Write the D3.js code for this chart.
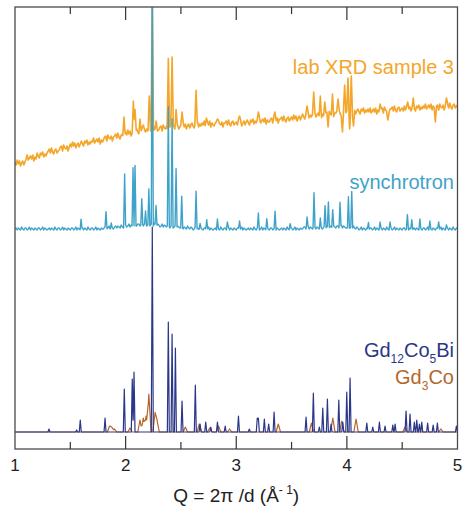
<!DOCTYPE html>
<html>
<head>
<meta charset="utf-8">
<script src="https://cdn.jsdelivr.net/npm/d3@7"></script>
<style>
  html, body { margin: 0; padding: 0; background: #fff; }
  svg { display: block; font-family: "Liberation Sans", Arial, Helvetica, sans-serif; }
</style>
</head>
<body>
<svg id="chart" width="463" height="512"></svg>
<script>
// Powder diffraction patterns versus momentum transfer Q (1/Å), stacked with offsets.

// Common Q grid for the measured backgrounds
const qStart = 1;
const qStep = 0.01;

// Lab XRD (sample 3): measured background on the Q grid, a.u. (one row per 0.1 in Q)
const labBackground = [
  270, 267, 272, 268, 271, 266, 269, 271, 267, 270,
  273, 277, 272, 274, 276, 273, 277, 271, 275, 273,
  279, 276, 274, 279, 277, 280, 275, 278, 276, 279,
  281, 283, 279, 284, 280, 278, 282, 283, 279, 281,
  282, 285, 286, 281, 287, 284, 283, 286, 281, 285,
  288, 285, 290, 286, 289, 284, 287, 289, 285, 288,
  291, 288, 286, 291, 289, 292, 287, 290, 288, 291,
  290, 294, 289, 291, 293, 290, 294, 288, 292, 290,
  292, 295, 296, 291, 297, 294, 293, 296, 291, 295,
  296, 298, 294, 299, 295, 293, 297, 298, 294, 296,
  300, 297, 302, 298, 301, 296, 299, 301, 297, 300,
  303, 300, 298, 303, 301, 304, 299, 302, 300, 303,
  301, 305, 300, 302, 304, 301, 305, 299, 303, 301,
  302, 305, 306, 301, 307, 304, 303, 306, 301, 305,
  305, 307, 303, 308, 304, 302, 306, 307, 303, 305,
  307, 304, 309, 305, 308, 303, 306, 308, 304, 307,
  309, 306, 304, 309, 307, 310, 305, 308, 306, 309,
  307, 311, 306, 308, 310, 307, 311, 305, 309, 307,
  306, 309, 310, 305, 311, 308, 307, 310, 305, 309,
  309, 311, 307, 312, 308, 306, 310, 311, 307, 309,
  310, 307, 312, 308, 311, 306, 309, 311, 307, 310,
  312, 309, 307, 312, 310, 313, 308, 311, 309, 312,
  310, 314, 309, 311, 313, 310, 314, 308, 312, 310,
  310, 313, 314, 309, 315, 312, 311, 314, 309, 313,
  313, 315, 311, 316, 312, 310, 314, 315, 311, 313,
  315, 312, 317, 313, 316, 311, 314, 316, 312, 315,
  318, 315, 313, 318, 316, 319, 314, 317, 315, 318,
  316, 320, 315, 317, 319, 316, 320, 314, 318, 316,
  316, 319, 320, 315, 321, 318, 317, 320, 315, 319,
  319, 321, 317, 322, 318, 316, 320, 321, 317, 319,
  321, 318, 323, 319, 322, 317, 320, 322, 318, 321,
  323, 320, 318, 323, 321, 324, 319, 322, 320, 323,
  320, 324, 319, 321, 323, 320, 324, 318, 322, 320,
  320, 323, 324, 319, 325, 322, 321, 324, 319, 323,
  323, 325, 321, 326, 322, 320, 324, 325, 321, 323,
  324, 321, 326, 322, 325, 320, 323, 325, 321, 324,
  326, 323, 321, 326, 324, 327, 322, 325, 323, 326,
  324, 328, 323, 325, 327, 324, 328, 322, 326, 324,
  323, 326, 327, 322, 328, 325, 324, 327, 322, 326,
  326, 328, 324, 329, 325, 323, 327, 328, 324, 326,
  327
];
// Lab XRD reflections: [Q, intensity above background]
const labPeaks = [
  [1.985, 20], [2.07, 30], [2.085, 24], [2.13, 10], [2.16, 8], [2.214, 33],
  [2.241, 140], [2.275, 10], [2.386, 70], [2.42, 72], [2.456, 18], [2.51, 16],
  [2.637, 34], [2.73, 6], [2.83, 8], [3.03, 8], [3.2, 10], [3.35, 8],
  [3.64, 10], [3.70, 24], [3.76, 16], [3.80, 14], [3.83, -10], [3.87, 18],
  [3.92, 16], [3.96, -20], [3.98, 30], [4.01, 36], [4.025, -18], [4.04, 34],
  [4.06, -14], [4.3, 8], [4.37, -12], [4.55, 10], [4.6, 8], [4.8, -13], [4.9, 8]
];

// Synchrotron pattern: background on the Q grid, a.u. (one row per 0.1 in Q)
const syncOffset = 203;
const syncBackground = [
  0, 1, -1, 1, 0, -1, 2, 0, -1, 1,
  1, -1, 0, 2, -1, 1, 0, -1, 1, 0,
  -1, 1, 1, -1, 0, 2, -1, 1, 0, -1,
  0, 1, -1, 1, 0, -1, 2, 0, -1, 1,
  1, -1, 0, 2, -1, 1, 0, -1, 1, 0,
  -1, 1, 1, -1, 0, 2, -1, 1, 0, -1,
  0, 1, -1, 1, 0, -1, 2, 0, -1, 1,
  1, -1, 0, 2, -1, 1, 0, -1, 1, 0,
  0, 2, 2, 0, 1, 3, 0, 2, 1, 0,
  2, 3, 1, 3, 2, 1, 4, 2, 1, 3,
  4, 2, 3, 5, 2, 4, 3, 2, 4, 3,
  3, 5, 5, 3, 4, 6, 3, 5, 4, 3,
  4, 5, 3, 5, 4, 3, 6, 4, 3, 5,
  4, 2, 3, 5, 2, 4, 3, 2, 4, 3,
  1, 3, 3, 1, 2, 4, 1, 3, 2, 1,
  1, 2, 0, 2, 1, 0, 3, 1, 0, 2,
  1, -1, 0, 2, -1, 1, 0, -1, 1, 0,
  -1, 1, 1, -1, 0, 2, -1, 1, 0, -1,
  0, 1, -1, 1, 0, -1, 2, 0, -1, 1,
  1, -1, 0, 2, -1, 1, 0, -1, 1, 0,
  -1, 1, 1, -1, 0, 2, -1, 1, 0, -1,
  0, 1, -1, 1, 0, -1, 2, 0, -1, 1,
  1, -1, 0, 2, -1, 1, 0, -1, 1, 0,
  -1, 1, 1, -1, 0, 2, -1, 1, 0, -1,
  0, 1, -1, 1, 0, -1, 2, 0, -1, 1,
  1, -1, 0, 2, -1, 1, 0, -1, 1, 0,
  0, 2, 2, 0, 1, 3, 0, 2, 1, 0,
  1, 2, 0, 2, 1, 0, 3, 1, 0, 2,
  3, 1, 2, 4, 1, 3, 2, 1, 3, 2,
  1, 3, 3, 1, 2, 4, 1, 3, 2, 1,
  1, 2, 0, 2, 1, 0, 3, 1, 0, 2,
  1, -1, 0, 2, -1, 1, 0, -1, 1, 0,
  -1, 1, 1, -1, 0, 2, -1, 1, 0, -1,
  0, 1, -1, 1, 0, -1, 2, 0, -1, 1,
  1, -1, 0, 2, -1, 1, 0, -1, 1, 0,
  -1, 1, 1, -1, 0, 2, -1, 1, 0, -1,
  0, 1, -1, 1, 0, -1, 2, 0, -1, 1,
  1, -1, 0, 2, -1, 1, 0, -1, 1, 0,
  -1, 1, 1, -1, 0, 2, -1, 1, 0, -1,
  0, 1, -1, 1, 0, -1, 2, 0, -1, 1,
  0
];
const syncPeaks = [
  [1.597, 10], [1.823, 16], [1.87, 4], [1.991, 52], [2.067, 59], [2.085, 60],
  [2.146, 25], [2.18, 14], [2.21, 35], [2.241, 260], [2.275, 20], [2.386, 119],
  [2.42, 107], [2.456, 58], [2.507, 31], [2.637, 38], [2.673, 6], [2.733, 10],
  [2.83, 9], [2.92, 7], [3.03, 9], [3.2, 15], [3.276, 10], [3.351, 16],
  [3.487, 5], [3.64, 11], [3.703, 35], [3.76, 8], [3.803, 21], [3.833, 24],
  [3.872, 18], [3.938, 25], [4.014, 31], [4.044, 37], [4.195, 7], [4.3, 7],
  [4.39, 6], [4.547, 13], [4.587, 10], [4.66, 8], [4.75, 7], [4.83, 8], [4.9, 4]
];

// Calculated patterns: [Q, intensity]
const gd12Co5BiPeaks = [
  [1.307, 3], [1.557, 2], [1.59, 12], [1.814, 14], [1.988, 43], [2.06, 53],
  [2.076, 60], [2.241, 205], [2.386, 110], [2.42, 98], [2.45, 84], [2.51, 31],
  [2.63, 47], [2.673, 8], [2.724, 10], [2.77, 5], [2.83, 10], [2.9, 6],
  [3.02, 16], [3.118, 3], [3.19, 14], [3.2, 14], [3.254, 13], [3.293, 8],
  [3.342, 20], [3.631, 15], [3.697, 39], [3.751, 5], [3.782, 24], [3.824, 33],
  [3.857, 8], [3.927, 32], [3.963, 10], [3.999, 40], [4.029, 54], [4.18, 9],
  [4.234, 5], [4.294, 10], [4.345, 6], [4.415, 7], [4.436, 8], [4.535, 21],
  [4.571, 18], [4.61, 10], [4.632, 12], [4.656, 8], [4.677, 10], [4.73, 9],
  [4.78, 7], [4.818, 9], [4.99, 6]
];
const gd3CoPeaks = [
  [1.855, 6], [1.875, 5], [1.9, 3], [2.04, 4], [2.13, 12], [2.16, 14],
  [2.185, 16], [2.21, 38], [2.266, 19], [2.285, 11], [2.54, 5], [2.666, 8],
  [2.76, 4], [2.84, 6], [2.94, 3], [3.38, 8], [3.68, 9], [3.873, 14],
  [3.954, 11], [4.083, 13], [4.526, 5], [4.85, 3]
];

// Axis ticks
const majorTicks = [1, 2, 3, 4, 5];
const minorTicks = [1.5, 2.5, 3.5, 4.5];

const colors = {
  lab: "#f4a62a",
  sync: "#3fa3c9",
  gd12: "#2b3788",
  gd3: "#b5662a",
  frame: "#4a4a4a"
};

const plot = { left: 15, right: 457.5, top: 7, bottom: 449 };

const x = d3.scaleLinear().domain([1, 5]).range([plot.left, plot.right]);
const y = d3.scaleLinear().domain([-17, 425]).range([plot.bottom, plot.top]);

const svg = d3.select("#chart");

svg.append("defs").append("clipPath").attr("id", "plotClip")
  .append("rect")
  .attr("x", plot.left).attr("y", plot.top)
  .attr("width", plot.right - plot.left).attr("height", plot.bottom - plot.top);

// Build a polyline: background (grid) plus narrow triangular reflections
function pattern(background, peaks, halfWidth, offset) {
  const baseAt = q => {
    if (!background) return 0;
    const t = (q - qStart) / qStep;
    const i = Math.max(0, Math.min(background.length - 2, Math.floor(t)));
    const f = t - i;
    return background[i] * (1 - f) + background[i + 1] * f;
  };
  const qs = new Set([1, 5]);
  if (background) background.forEach((_, i) => qs.add(+(qStart + i * qStep).toFixed(4)));
  peaks.forEach(([q]) => { qs.add(q - halfWidth); qs.add(q); qs.add(q + halfWidth); });
  return Array.from(qs).filter(q => q >= 1 && q <= 5).sort((a, b) => a - b).map(q => {
    let v = baseAt(q);
    peaks.forEach(([pq, h]) => {
      const d = Math.abs(q - pq);
      if (d < halfWidth) v += h * (1 - d / halfWidth);
    });
    return [q, v + offset];
  });
}

const line = d3.line().x(d => x(d[0])).y(d => y(d[1]));

const layer = svg.append("g").attr("clip-path", "url(#plotClip)");

const series = [
  { data: pattern(null, gd3CoPeaks, 0.02, 0), color: colors.gd3, width: 1.2 },
  { data: pattern(null, gd12Co5BiPeaks, 0.009, 0), color: colors.gd12, width: 1.2 },
  { data: pattern(labBackground, labPeaks, 0.011, 0), color: colors.lab, width: 1.6 },
  { data: pattern(syncBackground, syncPeaks, 0.009, syncOffset), color: colors.sync, width: 1.4 }
];

layer.selectAll("path.trace").data(series).join("path")
  .attr("class", "trace")
  .attr("fill", "none")
  .attr("stroke", d => d.color)
  .attr("stroke-width", d => d.width)
  .attr("stroke-linejoin", "round")
  .attr("d", d => line(d.data));

// Frame
svg.append("rect")
  .attr("x", plot.left).attr("y", plot.top)
  .attr("width", plot.right - plot.left).attr("height", plot.bottom - plot.top)
  .attr("fill", "none").attr("stroke", colors.frame).attr("stroke-width", 1.3);

// Inward ticks on bottom and top edges
const ticks = svg.append("g").attr("stroke", "#333").attr("stroke-width", 1.2);
const tickDefs = majorTicks.slice(1, -1).map(v => ({ v, len: 13 }))
  .concat(minorTicks.map(v => ({ v, len: 7 })));
ticks.selectAll("line.bt").data(tickDefs).join("line")
  .attr("class", "bt")
  .attr("x1", d => x(d.v)).attr("x2", d => x(d.v))
  .attr("y1", plot.bottom).attr("y2", d => plot.bottom - d.len);
ticks.selectAll("line.tt").data(tickDefs).join("line")
  .attr("class", "tt")
  .attr("x1", d => x(d.v)).attr("x2", d => x(d.v))
  .attr("y1", plot.top).attr("y2", d => plot.top + d.len);

// Tick labels
svg.selectAll("text.tick").data(majorTicks).join("text")
  .attr("class", "tick")
  .attr("x", d => x(d)).attr("y", 471)
  .attr("text-anchor", "middle")
  .attr("font-size", 17).attr("fill", "#222")
  .text(d => d);

// Axis title
const title = svg.append("text")
  .attr("x", x(3)).attr("y", 502)
  .attr("text-anchor", "middle")
  .attr("font-size", 19).attr("fill", "#222");
title.append("tspan").text("Q = 2π /d (Å");
title.append("tspan").attr("dy", -8).attr("font-size", 12).text("- 1");
title.append("tspan").attr("dy", 8).text(")");

// Series labels
svg.append("text")
  .attr("x", 454).attr("y", 74).attr("text-anchor", "end")
  .attr("font-size", 20).attr("fill", colors.lab)
  .text("lab XRD sample 3");

svg.append("text")
  .attr("x", 454).attr("y", 189).attr("text-anchor", "end")
  .attr("font-size", 20).attr("fill", colors.sync)
  .text("synchrotron");

const gd12Label = svg.append("text")
  .attr("x", 454).attr("y", 357).attr("text-anchor", "end")
  .attr("font-size", 20).attr("fill", colors.gd12);
gd12Label.append("tspan").text("Gd");
gd12Label.append("tspan").attr("dy", 6).attr("font-size", 12).text("12");
gd12Label.append("tspan").attr("dy", -6).text("Co");
gd12Label.append("tspan").attr("dy", 6).attr("font-size", 12).text("5");
gd12Label.append("tspan").attr("dy", -6).text("Bi");

const gd3Label = svg.append("text")
  .attr("x", 454).attr("y", 384).attr("text-anchor", "end")
  .attr("font-size", 20).attr("fill", colors.gd3);
gd3Label.append("tspan").text("Gd");
gd3Label.append("tspan").attr("dy", 6).attr("font-size", 12).text("3");
gd3Label.append("tspan").attr("dy", -6).text("Co");
</script>
</body>
</html>
